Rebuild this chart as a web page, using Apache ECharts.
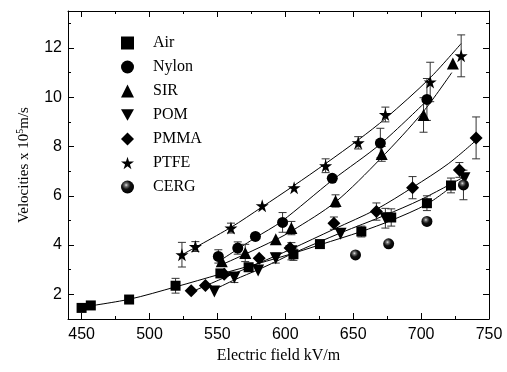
<!DOCTYPE html>
<html>
<head>
<meta charset="utf-8">
<script src="https://cdn.jsdelivr.net/npm/echarts@6/dist/echarts.min.js"></script>
<style>html,body{margin:0;padding:0;background:#fff}#c{width:507px;height:372px}</style>
</head>
<body>
<div id="c"></div>
<script>
// ---- data ----
const seriesNames = ['Air', 'Nylon', 'SIR', 'POM', 'PMMA', 'PTFE', 'CERG'];

const airX = [450, 456.8, 485, 519.2, 552.2, 573, 606, 625.5, 656, 678, 704.3, 722];
const airY = [1.45, 1.55, 1.79, 2.35, 2.85, 3.1, 3.63, 4.04, 4.55, 5.12, 5.7, 6.42];
const airErr = [0, 0, 0, 0.3, 0.15, 0.12, 0.25, 0, 0.22, 0.35, 0.3, 0.3];

const nylonX = [550.7, 565, 578, 598, 634.6, 670, 704.3];
const nylonY = [3.54, 3.88, 4.35, 4.92, 6.71, 8.14, 9.91];
const nylonErr = [0.27, 0.25, 0, 0.4, 0, 0.6, 0.85];

const sirX = [553.2, 570.5, 593, 604.5, 637, 671, 701.8, 723.4];
const sirY = [3.34, 3.68, 4.24, 4.69, 5.79, 7.7, 9.28, 11.37];
const sirErr = [0, 0.35, 0, 0.27, 0.25, 0.3, 0.7, 0];

const pomX = [547.8, 562.5, 580, 593, 604.5, 640.7, 673.7, 731.9];
const pomY = [2.12, 2.68, 2.97, 3.47, 3.75, 4.46, 5.09, 6.71];
const pomErr = [0, 0.2, 0, 0.2, 0.35, 0, 0.4, 0];

const pmmaX = [530.7, 541.2, 555, 580.8, 603.5, 635.8, 667.1, 693.7, 728.2, 740.5];
const pmmaY = [2.15, 2.36, 2.82, 3.47, 3.88, 4.89, 5.36, 6.33, 7.05, 8.35];
const pmmaErr = [0, 0, 0, 0, 0, 0.25, 0.35, 0.45, 0.3, 0.85];

const ptfeX = [523.9, 533.8, 560, 583, 606.5, 629.7, 653.7, 673.7, 706.7, 729.5];
const ptfeY = [3.61, 3.94, 4.69, 5.6, 6.33, 7.22, 8.15, 9.3, 10.62, 11.68];
const ptfeErr = [0.5, 0.2, 0.2, 0, 0, 0.28, 0.25, 0.3, 0.8, 0.85];

const cergX = [651.7, 676.1, 704.3, 731.2];
const cergY = [3.6, 4.05, 4.96, 6.44];
const cergErr = [0, 0, 0, 0.6];

// fitted curves
const airFitX = [450, 485, 519, 552, 580, 606, 626, 656, 678, 704, 722];
const airFitY = [1.48, 1.8, 2.3, 2.82, 3.25, 3.67, 4.02, 4.55, 5.0, 5.65, 6.35];
const nylonFitX = [550, 578, 597, 635, 670, 704];
const nylonFitY = [3.3, 4.3, 4.95, 6.65, 8.1, 9.85];
const sirFitX = [553, 570, 593, 605, 637, 670, 701.4, 722.6];
const sirFitY = [3.2, 3.62, 4.22, 4.58, 5.75, 7.5, 9.4, 11.0];
const pomFitX = [548, 563, 580, 593, 605, 641, 673, 700, 731];
const pomFitY = [2.2, 2.6, 3.0, 3.33, 3.65, 4.5, 5.2, 5.85, 6.75];
const pmmaFitX = [531, 554, 581, 604, 636, 667, 694, 720, 740.5];
const pmmaFitY = [2.1, 2.65, 3.28, 3.83, 4.65, 5.45, 6.35, 7.3, 8.25];
const ptfeFitX = [522, 560, 583, 606, 630, 654, 674, 706, 729.5];
const ptfeFitY = [3.55, 4.72, 5.55, 6.4, 7.32, 8.28, 9.15, 10.75, 12.18];

const xMajor = [450, 500, 550, 600, 650, 700, 750];
const xMinor = [475, 525, 575, 625, 675, 725];
const yMajor = [2, 4, 6, 8, 10, 12];
const yMinor = [3, 5, 7, 9, 11, 13];

// ---- chart ----
const zip = (xs, ys) => xs.map((x, i) => [x, ys[i]]);
const errData = (xs, ys, es) => xs.map((x, i) => [x, ys[i] - es[i], ys[i] + es[i], es[i]]).filter(d => d[3] > 0);

const STAR = 'path://M50,0 L61,35 L98,35 L68,57 L79,91 L50,70 L21,91 L32,57 L2,35 L39,35 Z';
const DOWN = 'path://M0,0 L10,0 L5,9 Z';
const sphere = new echarts.graphic.RadialGradient(0.4, 0.35, 0.65, [
  {offset: 0, color: '#e0e0e0'}, {offset: 0.2, color: '#707070'}, {offset: 0.5, color: '#111'}, {offset: 1, color: '#000'}
]);

const groups = [
  {name: 'Air', x: airX, y: airY, e: airErr, fx: airFitX, fy: airFitY, symbol: 'rect', size: 10},
  {name: 'Nylon', x: nylonX, y: nylonY, e: nylonErr, fx: nylonFitX, fy: nylonFitY, symbol: 'circle', size: 11},
  {name: 'SIR', x: sirX, y: sirY, e: sirErr, fx: sirFitX, fy: sirFitY, symbol: 'triangle', size: 12},
  {name: 'POM', x: pomX, y: pomY, e: pomErr, fx: pomFitX, fy: pomFitY, symbol: DOWN, size: 12},
  {name: 'PMMA', x: pmmaX, y: pmmaY, e: pmmaErr, fx: pmmaFitX, fy: pmmaFitY, symbol: 'diamond', size: 13},
  {name: 'PTFE', x: ptfeX, y: ptfeY, e: ptfeErr, fx: ptfeFitX, fy: ptfeFitY, symbol: STAR, size: 13},
  {name: 'CERG', x: cergX, y: cergY, e: cergErr, fx: null, fy: null, symbol: 'circle', size: 11, color: sphere}
];

const series = [];
groups.forEach(g => {
  if (g.fx) {
    series.push({
      name: g.name + ' fit', type: 'line', data: zip(g.fx, g.fy), smooth: 0.3,
      showSymbol: false, symbol: 'none', lineStyle: {color: '#000', width: 1}, z: 2, silent: true
    });
  }
  series.push({
    name: g.name + ' err', type: 'custom', data: errData(g.x, g.y, g.e), z: 3, silent: true,
    encode: {x: 0, y: [1, 2]},
    renderItem: function (params, api) {
      const x = api.value(0);
      const top = api.coord([x, api.value(2)]);
      const bot = api.coord([x, api.value(1)]);
      const w = 4;
      const st = {stroke: '#333', lineWidth: 1};
      return {type: 'group', children: [
        {type: 'line', shape: {x1: top[0], y1: top[1], x2: bot[0], y2: bot[1]}, style: st},
        {type: 'line', shape: {x1: top[0] - w, y1: top[1], x2: top[0] + w, y2: top[1]}, style: st},
        {type: 'line', shape: {x1: bot[0] - w, y1: bot[1], x2: bot[0] + w, y2: bot[1]}, style: st}
      ]};
    }
  });
  series.push({
    name: g.name, type: 'scatter', data: zip(g.x, g.y), symbol: g.symbol, symbolSize: g.size,
    itemStyle: {color: g.color || '#000', opacity: 1}, z: 4
  });
});

const AX = {min: 440, max: 750};
const AY = {min: 1, max: 13.5};
const lineSt = {show: true, lineStyle: {color: '#000', width: 1}};
const noLine = {show: false};
const sans = 'Liberation Sans, Arial, sans-serif';
const serif = 'Liberation Serif, Times New Roman, serif';

const option = {
  animation: false,
  backgroundColor: '#fff',
  grid: {left: 68, right: 18, top: 11, bottom: 53},
  legend: {
    data: seriesNames, orient: 'vertical', left: 121, top: 35, padding: 0,
    itemWidth: 13, itemHeight: 13, itemGap: 8,
    formatter: n => '{s|}' + n,
    textStyle: {fontFamily: serif, fontSize: 16, color: '#000', rich: {s: {width: 14}}}
  },
  xAxis: [
    {type: 'value', ...AX, position: 'bottom', axisLine: lineSt,
     axisTick: {show: true, inside: true, length: 6, customValues: xMajor, lineStyle: {color: '#000'}},
     axisLabel: {customValues: xMajor, fontFamily: sans, fontSize: 16, color: '#000', margin: 8},
     splitLine: {show: false},
     name: 'Electric field kV/m', nameLocation: 'middle', nameGap: 29,
     nameTextStyle: {fontFamily: serif, fontSize: 16, color: '#000'}},
    {type: 'value', ...AX, position: 'bottom', axisLine: noLine,
     axisTick: {show: true, inside: true, length: 3, customValues: xMinor, lineStyle: {color: '#000'}},
     axisLabel: {show: false}, splitLine: {show: false}},
    {type: 'value', ...AX, position: 'top', axisLine: lineSt,
     axisTick: {show: true, inside: true, length: 6, customValues: xMajor, lineStyle: {color: '#000'}},
     axisLabel: {show: false}, splitLine: {show: false}},
    {type: 'value', ...AX, position: 'top', axisLine: noLine,
     axisTick: {show: true, inside: true, length: 3, customValues: xMinor, lineStyle: {color: '#000'}},
     axisLabel: {show: false}, splitLine: {show: false}}
  ],
  yAxis: [
    {type: 'value', ...AY, position: 'left', axisLine: lineSt,
     axisTick: {show: true, inside: true, length: 6, customValues: yMajor, lineStyle: {color: '#000'}},
     axisLabel: {customValues: yMajor, fontFamily: sans, fontSize: 16, color: '#000', margin: 6},
     splitLine: {show: false},
     name: 'Velocities x 10{sup|5}m/s', nameLocation: 'middle', nameGap: 35,
     nameTextStyle: {fontFamily: serif, fontSize: 15, color: '#000',
       rich: {sup: {fontFamily: serif, fontSize: 10, color: '#000', padding: [0, 0, 8, 0]}}}},
    {type: 'value', ...AY, position: 'left', axisLine: noLine,
     axisTick: {show: true, inside: true, length: 3, customValues: yMinor, lineStyle: {color: '#000'}},
     axisLabel: {show: false}, splitLine: {show: false}},
    {type: 'value', ...AY, position: 'right', axisLine: lineSt,
     axisTick: {show: true, inside: true, length: 6, customValues: yMajor, lineStyle: {color: '#000'}},
     axisLabel: {show: false}, splitLine: {show: false}},
    {type: 'value', ...AY, position: 'right', axisLine: noLine,
     axisTick: {show: true, inside: true, length: 3, customValues: yMinor, lineStyle: {color: '#000'}},
     axisLabel: {show: false}, splitLine: {show: false}}
  ],
  series: series
};

const chart = echarts.init(document.getElementById('c'), null, {renderer: 'canvas'});
chart.setOption(option);
</script>
</body>
</html>
